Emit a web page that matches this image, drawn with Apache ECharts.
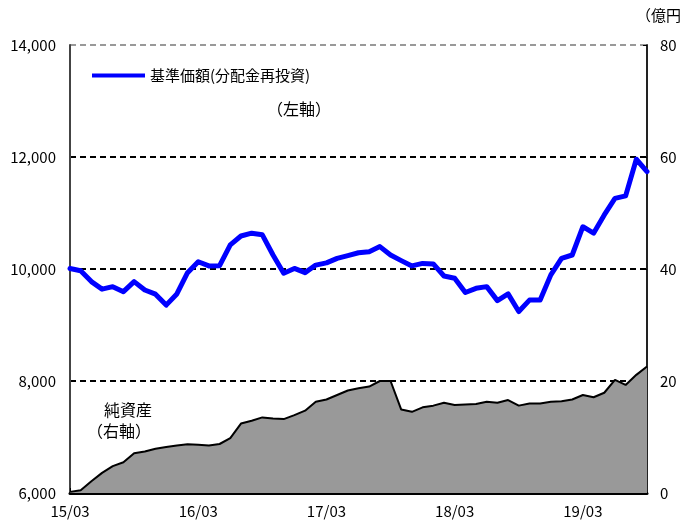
<!DOCTYPE html>
<html>
<head>
<meta charset="utf-8">
<script src="https://cdn.jsdelivr.net/npm/echarts@6/dist/echarts.min.js"></script>
<style>
  html, body { margin: 0; padding: 0; background: #fff; }
  #chart { width: 684px; height: 525px; }
</style>
</head>
<body>
<div id="chart"></div>
<script>
// Monthly labels, 2015/03 .. 2019/09 (yy/mm)
const months = [];
for (let y = 15, m = 3; y < 19 || (y === 19 && m <= 9); ) {
  months.push(String(y) + '/' + String(m).padStart(2, '0'));
  m++; if (m > 12) { m = 1; y++; }
}

// 基準価額(分配金再投資), 円 — left axis
const navReinvested = [
  10010, 9970, 9775, 9640, 9685, 9595, 9775, 9625, 9550, 9355,
  9555, 9935, 10130, 10055, 10060, 10430, 10590, 10640, 10610, 10250,
  9925, 10010, 9935, 10070, 10110, 10190, 10240, 10290, 10310, 10400,
  10250, 10150, 10055, 10100, 10090, 9875, 9835, 9580, 9655, 9685,
  9435, 9555, 9240, 9445, 9445, 9895, 10190, 10250, 10755, 10640,
  10965, 11260, 11305, 11960, 11740
];

// 純資産, 億円 — right axis
const netAssets = [
  0.2, 0.5, 2.1, 3.6, 4.8, 5.5, 7.1, 7.4, 7.9, 8.2,
  8.5, 8.7, 8.6, 8.5, 8.75, 9.8, 12.4, 12.9, 13.5, 13.3,
  13.2, 13.9, 14.7, 16.3, 16.7, 17.5, 18.3, 18.7, 19.0, 20.0,
  20.0, 14.9, 14.5, 15.3, 15.6, 16.1, 15.7, 15.8, 15.9, 16.3,
  16.1, 16.6, 15.6, 16.0, 16.0, 16.3, 16.4, 16.7, 17.5, 17.1,
  17.9, 20.2, 19.3, 21.1, 22.6
];

const navName = '基準価額(分配金再投資)';
const assetName = '純資産';
const font = '"Noto Sans CJK JP", "Noto Sans", sans-serif';

const chart = echarts.init(document.getElementById('chart'), null, { renderer: 'canvas' });

chart.setOption({
  animation: false,
  backgroundColor: '#ffffff',
  textStyle: { fontFamily: font },
  grid: { left: 70, right: 37, top: 45, bottom: 32, containLabel: false },
  legend: {
    data: [navName],
    left: 92, top: 68, padding: 0,
    icon: 'rect', itemWidth: 53, itemHeight: 4, itemGap: 4,
    textStyle: { fontFamily: font, fontSize: 15, color: '#000', padding: [0, 0, 0, 0] }
  },
  graphic: [
    { type: 'text', left: 267, top: 101, style: { text: '（左軸）', font: '16px ' + font, fill: '#000' } },
    { type: 'text', left: 104, top: 402, style: { text: '純資産', font: '16px ' + font, fill: '#000' } },
    { type: 'text', left: 87, top: 423, style: { text: '（右軸）', font: '16px ' + font, fill: '#000' } },
    { type: 'text', left: 636, top: 8, style: { text: '（億円', font: '15px ' + font, fill: '#000' } }
  ],
  xAxis: {
    type: 'category',
    data: months,
    boundaryGap: false,
    axisLine: { lineStyle: { color: '#000', width: 3 } },
    axisTick: {
      inside: true, length: 5, alignWithLabel: true,
      interval: (i) => i % 12 === 0,
      lineStyle: { color: '#000', width: 1 }
    },
    axisLabel: {
      interval: (i) => i % 12 === 0,
      color: '#000', fontSize: 15, fontFamily: font, margin: 11
    },
    splitLine: { show: false }
  },
  yAxis: [
    {
      type: 'value', position: 'left',
      min: 6000, max: 14000, interval: 2000,
      axisLine: { show: true, lineStyle: { color: '#444', width: 2 } },
      axisTick: { show: false },
      axisLabel: {
        color: '#000', fontSize: 15, fontFamily: font, margin: 14,
        formatter: (v) => v.toLocaleString('en-US')
      },
      splitLine: {
        show: true,
        lineStyle: { color: ['#000', '#000', '#000', '#000', '#999'], width: 2, type: [6, 4] }
      }
    },
    {
      type: 'value', position: 'right',
      min: 0, max: 80, interval: 20,
      axisLine: { show: true, lineStyle: { color: '#222', width: 2 } },
      axisTick: { show: true, inside: true, length: 4, lineStyle: { color: '#000' } },
      axisLabel: { color: '#000', fontSize: 15, fontFamily: font, margin: 13 },
      splitLine: { show: false }
    }
  ],
  series: [
    {
      name: assetName,
      type: 'line',
      yAxisIndex: 1,
      data: netAssets,
      symbol: 'none',
      lineStyle: { color: '#000', width: 2 },
      itemStyle: { color: '#999' },
      areaStyle: { color: '#999999', opacity: 1 },
      z: 2
    },
    {
      name: navName,
      type: 'line',
      yAxisIndex: 0,
      data: navReinvested,
      symbol: 'none',
      lineStyle: { color: '#0000ff', width: 5, join: 'round', cap: 'round' },
      itemStyle: { color: '#0000ff' },
      z: 3
    }
  ]
});
</script>
</body>
</html>
